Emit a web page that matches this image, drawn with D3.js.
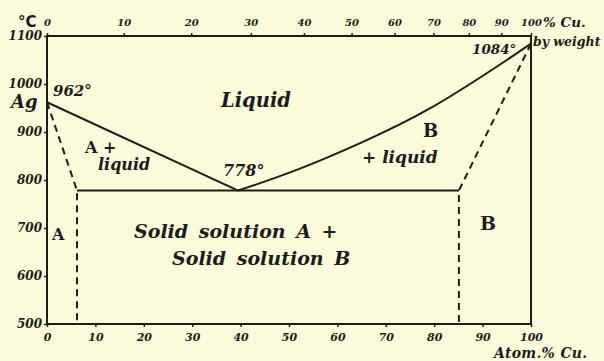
<!DOCTYPE html>
<html><head><meta charset="utf-8">
<script src="https://cdn.jsdelivr.net/npm/d3@7"></script>
<style>
html,body{margin:0;padding:0;background:#fbfbdc;}
svg{display:block;}
</style></head>
<body>
<svg id="c" width="604" height="361"></svg>
<script>
// ---- data ----
const tempTicks = [500, 600, 700, 800, 900, 1000, 1100];
const atomTicks = [0, 10, 20, 30, 40, 50, 60, 70, 80, 90, 100];
const weightTicks = [0, 10, 20, 30, 40, 50, 60, 70, 80, 90, 100];
const liquidusLeft = [[0, 962], [39.5, 778]];
const liquidusRight = [[39.5, 778], [51.6, 821], [65.4, 880], [79.1, 949], [92.9, 1036], [100, 1084]];
const solvusLeft = [[0, 962], [6.2, 778], [6.2, 500]];
const solvusRight = [[100, 1084], [85.1, 778], [85.1, 500]];
const eutectic = [[6.2, 778], [85.1, 778]];
const massAg = 107.87, massCu = 63.55;

const ink = "#1e1c18";
const svg = d3.select("#c");
const x = d3.scaleLinear().domain([0, 100]).range([47, 531]);
const y = d3.scaleLinear().domain([500, 1100]).range([324, 36]);
const wToA = w => w === 100 ? 100 : 100 * (w / massCu) / (w / massCu + (100 - w) / massAg);

const numFont = "'DejaVu Serif', serif";
const lbl = "'DejaVu Serif', serif";

// frame
svg.append("rect").attr("x", x(0)).attr("y", y(1100)).attr("width", x(100) - x(0)).attr("height", y(500) - y(1100))
  .attr("fill", "none").attr("stroke", ink).attr("stroke-width", 2);

// axes
const left = svg.append("g").attr("transform", `translate(${x(0)},0)`)
  .call(d3.axisLeft(y).tickValues(tempTicks).tickSize(3).tickPadding(2).tickFormat(d3.format("d")));
const bottom = svg.append("g").attr("transform", `translate(0,${y(500)})`)
  .call(d3.axisBottom(x).tickValues(atomTicks).tickSize(3).tickPadding(6));
// top axis: weight % ticks placed on the atom % scale
const topG = svg.append("g").attr("transform", `translate(0,${y(1100)})`);
const topAxis = d3.axisTop(x).tickValues(weightTicks.map(wToA)).tickSize(3).tickPadding(7)
  .tickFormat((d, i) => weightTicks[i]);
topG.call(topAxis);
[[left, 12], [bottom, 11], [topG, 10]].forEach(([g, fs]) => {
  g.select(".domain").remove();
  g.selectAll("line").attr("stroke", ink).attr("stroke-width", 1.5);
  g.selectAll("text").attr("fill", ink).style("font-family", numFont)
    .style("font-style", "italic").style("font-weight", "bold").style("font-size", fs + "px");
});

// lines
const line = d3.line().x(d => x(d[0])).y(d => y(d[1]));
const liq = d3.line().x(d => x(d[0])).y(d => y(d[1])).curve(d3.curveNatural);
svg.append("path").attr("d", line(liquidusLeft)).attr("fill", "none").attr("stroke", ink).attr("stroke-width", 2);
svg.append("path").attr("d", liq(liquidusRight)).attr("fill", "none").attr("stroke", ink).attr("stroke-width", 2);
svg.append("path").attr("d", line(eutectic)).attr("fill", "none").attr("stroke", ink).attr("stroke-width", 2);
[solvusLeft, solvusRight].forEach(s => {
  svg.append("path").attr("d", line(s)).attr("fill", "none").attr("stroke", ink)
    .attr("stroke-width", 2).attr("stroke-dasharray", "7,5");
});

// text helper
function t(str, xp, yp, opts = {}) {
  return svg.append("text").attr("x", xp).attr("y", yp).attr("fill", ink)
    .style("font-family", opts.family || lbl)
    .style("font-style", opts.italic === false ? "normal" : "italic")
    .style("font-weight", opts.weight || "bold")
    .style("font-size", (opts.size || 15) + "px")
    .style("letter-spacing", (opts.ls || 0) + "px")
    .style("word-spacing", (opts.ws || 0) + "px")
    .attr("text-anchor", opts.anchor || "start")
    .text(str);
}
// axis annotations
t("°C", 18, 27, {italic: false, size: 15, family: "'DejaVu Sans', sans-serif"});
t("% Cu.", 543, 27, {size: 13.5});
t("by weight", 533, 46, {size: 12.5});
t("Atom.% Cu.", 494, 358, {size: 14, ls: 0.3});

// point labels
t("962°", 53, 96, {size: 15});
t("Ag", 11, 108, {size: 18});
t("778°", 223, 176, {size: 16});
t("1084°", 472, 54, {size: 13.5});

// region labels
t("Liquid", 221, 107, {size: 19.5});
t("A +", 85, 153, {italic: false, size: 16});
t("liquid", 98, 170, {size: 16});
t("B", 423, 137, {italic: false, size: 18});
t("+ liquid", 362, 163, {size: 17});
t("A", 52, 240, {italic: false, size: 16});
t("B", 480, 230, {italic: false, size: 19});
t("Solid solution A +", 134, 238, {size: 19, ws: 4});
t("Solid solution B", 172, 265, {size: 19, ws: 4});
</script>
</body></html>
